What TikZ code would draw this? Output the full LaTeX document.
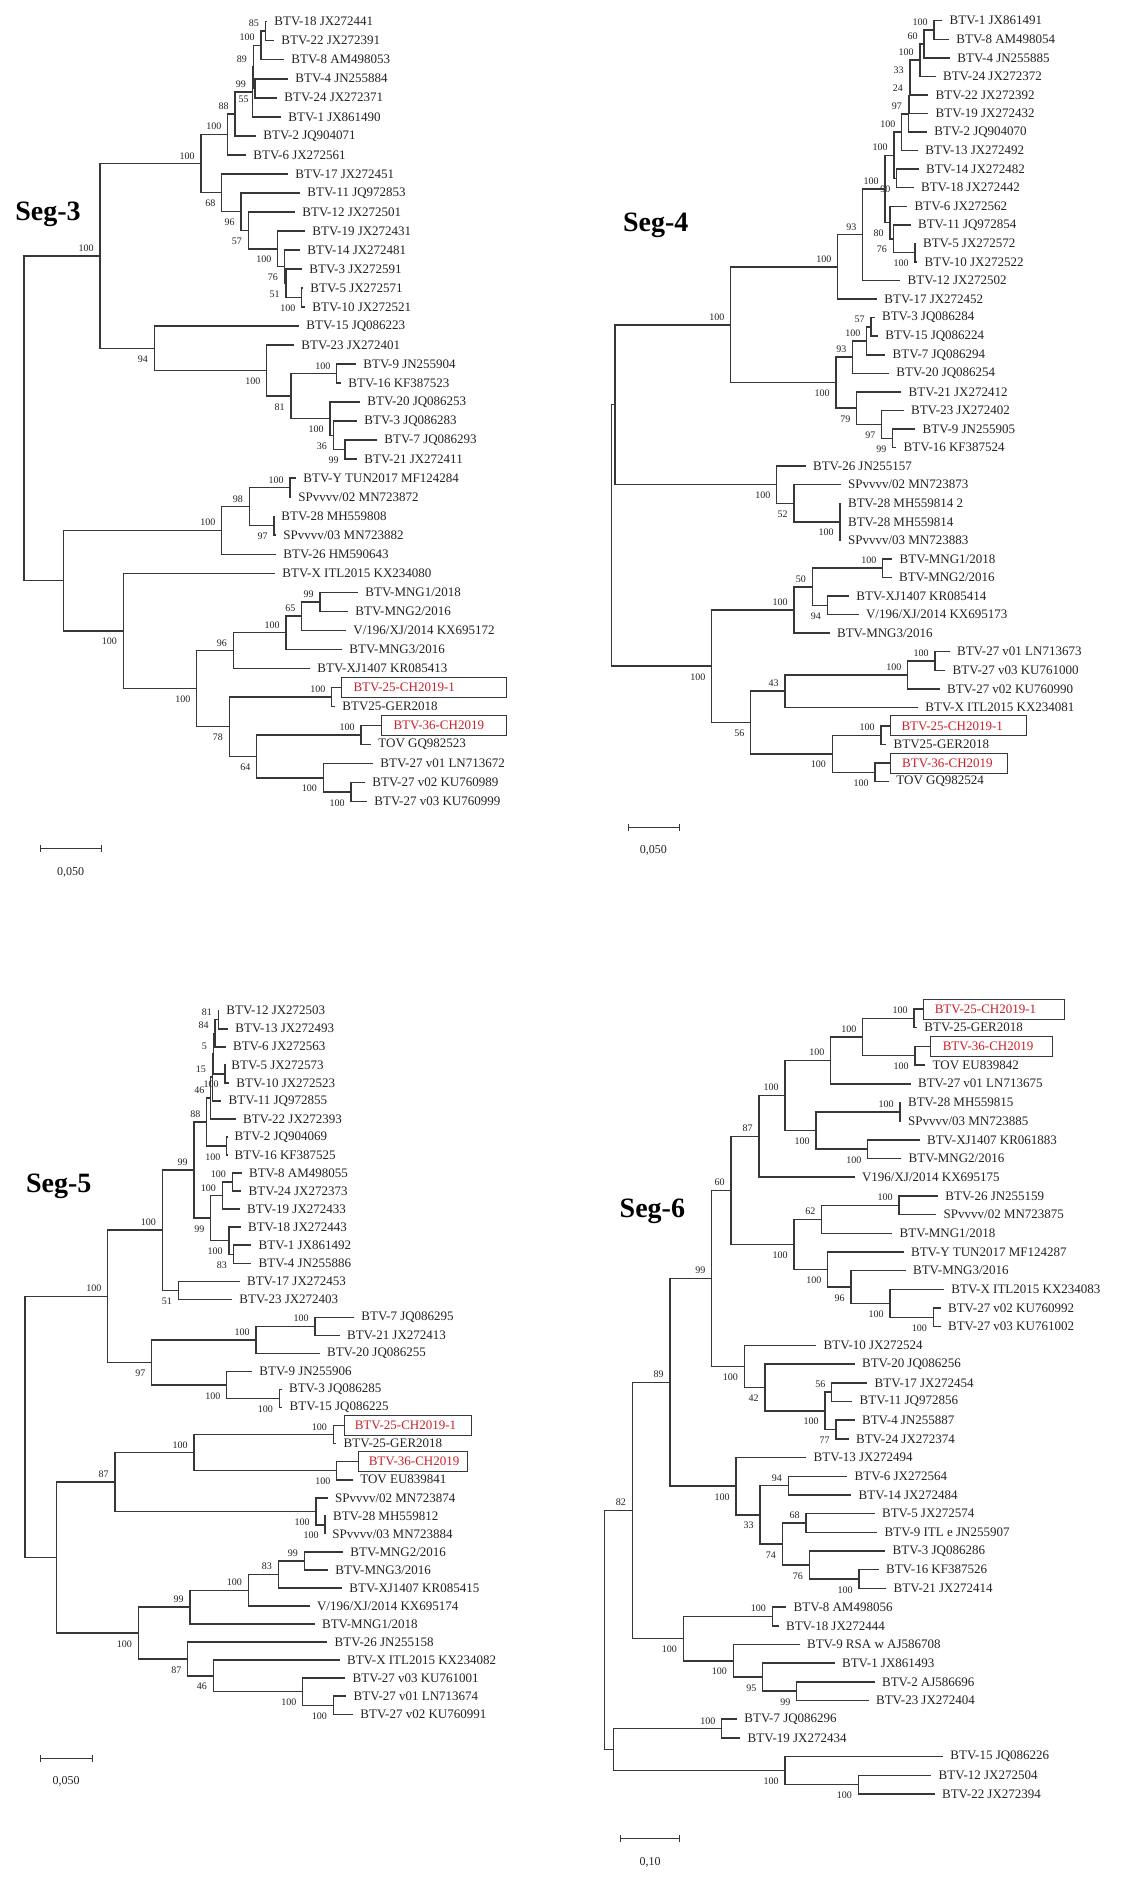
\documentclass[tikz,border=0pt]{standalone}
\usepackage{fontspec}
\setmainfont{Liberation Serif}
\usetikzlibrary{calc,arrows.meta}
\definecolor{ln}{RGB}{55,55,55}
\definecolor{tx}{RGB}{35,35,35}
\definecolor{rd}{RGB}{205,30,40}
\tikzset{
 br/.style={draw=ln, line width=0.75pt},
 tip/.style={anchor=west, inner xsep=3.5pt, inner ysep=1pt, text=tx, font=\fontsize{6.5}{7}\selectfont},
 boxtip/.style={anchor=west, draw=ln, line width=0.5pt, text=rd, inner ysep=0pt, minimum height=10pt, font=\fontsize{6.5}{7}\selectfont},
 bs/.style={inner sep=0pt, text=tx, font=\fontsize{5}{5.5}\selectfont},
 ttl/.style={anchor=base west, inner sep=0pt, font=\fontsize{14}{16}\selectfont\bfseries, text=black},
 sc/.style={inner sep=0pt, font=\fontsize{6}{7}\selectfont, text=tx},
 sbar/.style={draw=ln, line width=0.6pt, {Bar[width=3.4pt]}-{Bar[width=3.4pt]}},
}
% tip: name, text x, index, label
\newcommand\tp[4]{\node[tip] (#1) at ({#2-7},{\tyb+\tys*(#3-1)}) {#4};}
% boxed tip: name, box left x, index, inner xsep (pt), text width (pt), label
\newcommand\bt[6]{\node[boxtip, inner xsep=#4pt] (#1) at (#2,{\tyb+\tys*(#3-1)}) {\makebox[#5pt][l]{#6}};}
% internal node: name, x, top child, bottom child, support, a/b
\newcommand\nd[6]{%
 \coordinate (m#1) at ($(#3)!0.5!(#4)$);
 \coordinate (#1) at (#2,0 |- m#1);
 \draw[br] (#1) |- (#3) (#1) |- (#4);
 \if#6a\node[bs,anchor=south east] at ([shift={(-3pt,2pt)}]#1) {#5};%
 \else\node[bs,anchor=north east] at ([shift={(-3pt,-3.5pt)}]#1) {#5};\fi}
\begin{document}
\begin{tikzpicture}[x=0.5pt,y=-0.5pt]
\path[use as bounding box, fill=white] (0,0) rectangle (1125,1879);

% ================= Seg-3 =================
\def\tyb{21.7}\def\tys{19.02}
\node[ttl] (t3) at (15,220) {Seg-3};
\tp{c1}{274}{1}{BTV-18 JX272441}
\tp{c2}{281}{2}{BTV-22 JX272391}
\tp{c3}{291}{3}{BTV-8 AM498053}
\tp{c4}{295}{4}{BTV-4 JN255884}
\tp{c5}{284}{5}{BTV-24 JX272371}
\tp{c6}{288}{6}{BTV-1 JX861490}
\tp{c7}{263}{7}{BTV-2 JQ904071}
\tp{c8}{253}{8}{BTV-6 JX272561}
\tp{c9}{295}{9}{BTV-17 JX272451}
\tp{c10}{307}{10}{BTV-11 JQ972853}
\tp{c11}{302}{11}{BTV-12 JX272501}
\tp{c12}{312}{12}{BTV-19 JX272431}
\tp{c13}{307}{13}{BTV-14 JX272481}
\tp{c14}{309}{14}{BTV-3 JX272591}
\tp{c15}{310}{15}{BTV-5 JX272571}
\tp{c16}{312}{16}{BTV-10 JX272521}
\tp{c17}{306}{17}{BTV-15 JQ086223}
\tp{c18}{301}{18}{BTV-23 JX272401}
\tp{c19}{363}{19}{BTV-9 JN255904}
\tp{c20}{348}{20}{BTV-16 KF387523}
\tp{c21}{367}{21}{BTV-20 JQ086253}
\tp{c22}{364}{22}{BTV-3 JQ086283}
\tp{c23}{384}{23}{BTV-7 JQ086293}
\tp{c24}{364}{24}{BTV-21 JX272411}
\tp{c25}{303}{25}{BTV-Y TUN2017 MF124284}
\tp{c26}{298}{26}{SPvvvv/02 MN723872}
\tp{c27}{281}{27}{BTV-28 MH559808}
\tp{c28}{283}{28}{SPvvvv/03 MN723882}
\tp{c29}{283}{29}{BTV-26 HM590643}
\tp{c30}{282}{30}{BTV-X ITL2015 KX234080}
\tp{c31}{365}{31}{BTV-MNG1/2018}
\tp{c32}{355}{32}{BTV-MNG2/2016}
\tp{c33}{353}{33}{V/196/XJ/2014 KX695172}
\tp{c34}{349}{34}{BTV-MNG3/2016}
\tp{c35}{317}{35}{BTV-XJ1407 KR085413}
\bt{c36}{341}{36}{6}{70.3}{BTV-25-CH2019-1}
\tp{c37}{342}{37}{BTV25-GER2018}
\bt{c38}{381}{38}{6}{50.5}{BTV-36-CH2019}
\tp{c39}{378}{39}{TOV GQ982523}
\tp{c40}{380}{40}{BTV-27 v01 LN713672}
\tp{c41}{372}{41}{BTV-27 v02 KU760989}
\tp{c42}{374}{42}{BTV-27 v03 KU760999}
\nd{cA}{265.3}{c1}{c2}{85}{a}
\nd{cB}{261}{cA}{c3}{100}{a}
\nd{cC}{255}{c4}{c5}{55}{b}
\nd{cD}{253.3}{cB}{cC}{89}{a}
\nd{cE}{252.3}{cD}{c6}{99}{a}
\nd{cF}{235}{cE}{c7}{88}{a}
\nd{cG}{227.7}{cF}{c8}{100}{a}
\nd{cH}{301.7}{c15}{c16}{100}{b}
\nd{cI}{286}{c14}{cH}{51}{b}
\nd{cJ}{284.3}{c13}{cI}{76}{b}
\nd{cK}{277.7}{c12}{cJ}{100}{b}
\nd{cL}{248.3}{c11}{cK}{57}{b}
\nd{cM}{241}{c10}{cL}{96}{b}
\nd{cN}{221.7}{c9}{cM}{68}{b}
\nd{cO}{201}{cG}{cN}{100}{a}
\nd{cP}{336.7}{c19}{c20}{100}{a}
\nd{cQ}{345}{c23}{c24}{99}{b}
\nd{cR}{333.3}{c22}{cQ}{36}{b}
\nd{cS}{330}{c21}{cR}{100}{b}
\nd{cT}{291}{cP}{cS}{81}{b}
\nd{cU}{266.7}{c18}{cT}{100}{b}
\nd{cV}{154.3}{c17}{cU}{94}{b}
\nd{cW}{100}{cO}{cV}{100}{a}
\nd{cX}{290}{c25}{c26}{100}{a}
\nd{cY}{274}{c27}{c28}{97}{b}
\nd{cZ}{249.3}{cX}{cY}{98}{a}
\nd{ca}{221.7}{cZ}{c29}{100}{a}
\nd{cb}{320}{c31}{c32}{99}{a}
\nd{cc}{301.7}{cb}{c33}{65}{a}
\nd{cd}{286}{cc}{c34}{100}{a}
\nd{ce}{233.3}{cd}{c35}{96}{a}
\nd{cf}{331.7}{c36}{c37}{100}{a}
\nd{cg}{361}{c38}{c39}{100}{a}
\nd{ch}{351}{c41}{c42}{100}{b}
\nd{ci}{323.3}{c40}{ch}{100}{b}
\nd{cj}{256.7}{cg}{ci}{64}{b}
\nd{ck}{229.3}{cf}{cj}{78}{b}
\nd{cl}{196.7}{ce}{ck}{100}{b}
\nd{cm}{123.3}{c30}{cl}{100}{b}
\nd{cn}{63.3}{ca}{cm}{}{a}
\nd{co}{24}{cW}{cn}{}{a}
\coordinate (s3a) at (40,848.3); \coordinate (s3b) at (101.7,848.3);
\draw[sbar] (s3a) -- (s3b);
\node[sc] (s3l) at (70.7,872.7) {0,050};

% ================= Seg-4 =================
\def\tyb{20.7}\def\tys{18.56}
\node[ttl] (t4) at (622.7,231) {Seg-4};
\tp{d1}{949.3}{1}{BTV-1 JX861491}
\tp{d2}{956}{2}{BTV-8 AM498054}
\tp{d3}{957}{3}{BTV-4 JN255885}
\tp{d4}{942.7}{4}{BTV-24 JX272372}
\tp{d5}{935.3}{5}{BTV-22 JX272392}
\tp{d6}{935.3}{6}{BTV-19 JX272432}
\tp{d7}{934}{7}{BTV-2 JQ904070}
\tp{d8}{925}{8}{BTV-13 JX272492}
\tp{d9}{925.7}{9}{BTV-14 JX272482}
\tp{d10}{920.7}{10}{BTV-18 JX272442}
\tp{d11}{914.3}{11}{BTV-6 JX272562}
\tp{d12}{917.7}{12}{BTV-11 JQ972854}
\tp{d13}{922.7}{13}{BTV-5 JX272572}
\tp{d14}{924.3}{14}{BTV-10 JX272522}
\tp{d15}{907.3}{15}{BTV-12 JX272502}
\tp{d16}{884}{16}{BTV-17 JX272452}
\tp{d17}{881.7}{17}{BTV-3 JQ086284}
\tp{d18}{885}{18}{BTV-15 JQ086224}
\tp{d19}{892.3}{19}{BTV-7 JQ086294}
\tp{d20}{896}{20}{BTV-20 JQ086254}
\tp{d21}{908.3}{21}{BTV-21 JX272412}
\tp{d22}{910.7}{22}{BTV-23 JX272402}
\tp{d23}{922.3}{23}{BTV-9 JN255905}
\tp{d24}{903.3}{24}{BTV-16 KF387524}
\tp{d25}{812.7}{25}{BTV-26 JN255157}
\tp{d26}{847.7}{26}{SPvvvv/02 MN723873}
\tp{d27}{847.7}{27}{BTV-28 MH559814 2}
\tp{d28}{847.7}{28}{BTV-28 MH559814}
\tp{d29}{847.7}{29}{SPvvvv/03 MN723883}
\tp{d30}{899.3}{30}{BTV-MNG1/2018}
\tp{d31}{898.7}{31}{BTV-MNG2/2016}
\tp{d32}{856}{32}{BTV-XJ1407 KR085414}
\tp{d33}{865.7}{33}{V/196/XJ/2014 KX695173}
\tp{d34}{836.7}{34}{BTV-MNG3/2016}
\tp{d35}{956.7}{35}{BTV-27 v01 LN713673}
\tp{d36}{952.3}{36}{BTV-27 v03 KU761000}
\tp{d37}{946.7}{37}{BTV-27 v02 KU760990}
\tp{d38}{925}{38}{BTV-X ITL2015 KX234081}
\bt{d39}{890}{39}{5.5}{56.85}{BTV-25-CH2019-1}
\tp{d40}{893.3}{40}{BTV25-GER2018}
\bt{d41}{890}{41}{5.85}{46.65}{BTV-36-CH2019}
\tp{d42}{896}{42}{TOV GQ982524}
\nd{dA}{934}{d1}{d2}{100}{a}
\nd{dB}{924}{dA}{d3}{60}{a}
\nd{dC}{920}{dB}{d4}{100}{a}
\nd{dD}{910}{dC}{d5}{33}{a}
\nd{dE}{909.3}{dD}{d6}{24}{a}
\nd{dF}{908.3}{dE}{d7}{97}{a}
\nd{dG}{901.7}{dF}{d8}{100}{a}
\nd{dH}{896.7}{d9}{d10}{90}{b}
\nd{dI}{894}{dG}{dH}{100}{a}
\nd{dJ}{915}{d13}{d14}{100}{b}
\nd{dK}{893.3}{d12}{dJ}{76}{b}
\nd{dL}{890}{d11}{dK}{80}{b}
\nd{dM}{885}{dI}{dL}{100}{a}
\nd{dN}{862.7}{dM}{d15}{93}{a}
\nd{dO}{837.7}{dN}{d16}{100}{a}
\nd{dP}{871}{d17}{d18}{57}{a}
\nd{dQ}{866.7}{dP}{d19}{100}{a}
\nd{dR}{852.7}{dQ}{d20}{93}{a}
\nd{dS}{892.7}{d23}{d24}{99}{b}
\nd{dT}{881.7}{d22}{dS}{97}{b}
\nd{dU}{856.7}{d21}{dT}{79}{b}
\nd{dV}{836}{dR}{dU}{100}{b}
\nd{dW}{730.7}{dO}{dV}{100}{a}
\nd{dX}{840}{d27}{d29}{100}{b}
\draw[br] (dX) |- (d28);
\nd{dY}{794}{d26}{dX}{52}{b}
\nd{dZ}{776.7}{d25}{dY}{100}{b}
\nd{da}{615}{dW}{dZ}{}{a}
\nd{db}{882.7}{d30}{d31}{100}{a}
\nd{dc}{827.3}{d32}{d33}{94}{b}
\nd{dd}{812.3}{db}{dc}{50}{a}
\nd{de}{794}{dd}{d34}{100}{a}
\nd{df}{935}{d35}{d36}{100}{a}
\nd{dg}{907.7}{df}{d37}{100}{a}
\nd{dh}{785}{dg}{d38}{43}{a}
\nd{di}{881}{d39}{d40}{100}{a}
\nd{dj}{875}{d41}{d42}{100}{b}
\nd{dk}{832.3}{di}{dj}{100}{b}
\nd{dl}{750.7}{dh}{dk}{56}{b}
\nd{dm}{711.7}{de}{dl}{100}{b}
\nd{dn}{611.7}{da}{dm}{}{a}
\coordinate (s4a) at (627.7,827.3); \coordinate (s4b) at (680,827.3);
\draw[sbar] (s4a) -- (s4b);
\node[sc] (s4l) at (653.3,850) {0,050};

% ================= Seg-5 =================
\def\tyb{1010.7}\def\tys{18.04}
\node[ttl] (t5) at (25.7,1192.7) {Seg-5};
\tp{e1}{226}{1}{BTV-12 JX272503}
\tp{e2}{235}{2}{BTV-13 JX272493}
\tp{e3}{232.7}{3}{BTV-6 JX272563}
\tp{e4}{231}{4}{BTV-5 JX272573}
\tp{e5}{236}{5}{BTV-10 JX272523}
\tp{e6}{228.3}{6}{BTV-11 JQ972855}
\tp{e7}{242.7}{7}{BTV-22 JX272393}
\tp{e8}{234.3}{8}{BTV-2 JQ904069}
\tp{e9}{234.3}{9}{BTV-16 KF387525}
\tp{e10}{248.7}{10}{BTV-8 AM498055}
\tp{e11}{248.3}{11}{BTV-24 JX272373}
\tp{e12}{246.7}{12}{BTV-19 JX272433}
\tp{e13}{247.7}{13}{BTV-18 JX272443}
\tp{e14}{258.3}{14}{BTV-1 JX861492}
\tp{e15}{258.3}{15}{BTV-4 JN255886}
\tp{e16}{246.7}{16}{BTV-17 JX272453}
\tp{e17}{239}{17}{BTV-23 JX272403}
\tp{e18}{361}{18}{BTV-7 JQ086295}
\tp{e19}{346.7}{19}{BTV-21 JX272413}
\tp{e20}{326.7}{20}{BTV-20 JQ086255}
\tp{e21}{259}{21}{BTV-9 JN255906}
\tp{e22}{288.7}{22}{BTV-3 JQ086285}
\tp{e23}{289.3}{23}{BTV-15 JQ086225}
\bt{e24}{344.3}{24}{5}{53.35}{BTV-25-CH2019-1}
\tp{e25}{343.3}{25}{BTV-25-GER2018}
\bt{e26}{358.3}{26}{5}{44.2}{BTV-36-CH2019}
\tp{e27}{360}{27}{TOV EU839841}
\tp{e28}{334.7}{28}{SPvvvv/02 MN723874}
\tp{e29}{332.7}{29}{BTV-28 MH559812}
\tp{e30}{332}{30}{SPvvvv/03 MN723884}
\tp{e31}{350}{31}{BTV-MNG2/2016}
\tp{e32}{335}{32}{BTV-MNG3/2016}
\tp{e33}{349}{33}{BTV-XJ1407 KR085415}
\tp{e34}{316.7}{34}{V/196/XJ/2014 KX695174}
\tp{e35}{321.7}{35}{BTV-MNG1/2018}
\tp{e36}{334.3}{36}{BTV-26 JN255158}
\tp{e37}{346.7}{37}{BTV-X ITL2015 KX234082}
\tp{e38}{352.3}{38}{BTV-27 v03 KU761001}
\tp{e39}{353.3}{39}{BTV-27 v01 LN713674}
\tp{e40}{360}{40}{BTV-27 v02 KU760991}
\nd{eA}{218.3}{e1}{e2}{81}{a}
\nd{eB}{215}{eA}{e3}{84}{a}
\nd{eC}{225}{e4}{e5}{100}{b}
\nd{eD}{213.3}{eB}{eC}{5}{a}
\nd{eE}{212.3}{eD}{e6}{15}{a}
\nd{eF}{210.7}{eE}{e7}{46}{a}
\nd{eG}{226.7}{e8}{e9}{100}{b}
\nd{eH}{206.7}{eF}{eG}{88}{a}
\nd{eI}{232.3}{e10}{e11}{100}{a}
\nd{eJ}{222.3}{eI}{e12}{100}{a}
\nd{eK}{233.3}{e14}{e15}{83}{b}
\nd{eL}{229}{e13}{eK}{100}{b}
\nd{eM}{210.7}{eJ}{eL}{99}{b}
\nd{eN}{194}{eH}{eM}{99}{a}
\nd{eO}{178.3}{e16}{e17}{51}{b}
\nd{eP}{162.3}{eN}{eO}{100}{a}
\nd{eQ}{315}{e18}{e19}{100}{a}
\nd{eR}{256}{eQ}{e20}{100}{a}
\nd{eS}{279.3}{e22}{e23}{100}{b}
\nd{eT}{226.7}{e21}{eS}{100}{b}
\nd{eU}{151.7}{eR}{eT}{97}{b}
\nd{eV}{107.7}{eP}{eU}{100}{a}
\nd{eW}{333.3}{e24}{e25}{100}{a}
\nd{eX}{336.7}{e26}{e27}{100}{b}
\nd{eY}{194}{eW}{eX}{100}{a}
\nd{eZ}{325}{e29}{e30}{100}{b}
\nd{ea}{316}{e28}{eZ}{100}{b}
\nd{eb}{115}{eY}{ea}{87}{a}
\nd{ec}{304.3}{e31}{e32}{99}{a}
\nd{ed}{278.3}{ec}{e33}{83}{a}
\nd{ee}{248.3}{ed}{e34}{100}{a}
\nd{ef}{190}{ee}{e35}{99}{a}
\nd{eg}{333.3}{e39}{e40}{100}{b}
\nd{eh}{302.7}{e38}{eg}{100}{b}
\nd{ei}{213.3}{e37}{eh}{46}{b}
\nd{ej}{187.7}{e36}{ei}{87}{b}
\nd{ek}{138.3}{ef}{ej}{100}{b}
\nd{el}{56.7}{eb}{ek}{}{a}
\nd{em}{25}{eV}{el}{}{a}
\coordinate (s5a) at (40,1758.3); \coordinate (s5b) at (93.3,1758.3);
\draw[sbar] (s5a) -- (s5b);
\node[sc] (s5l) at (66,1781) {0,050};

% ================= Seg-6 =================
\def\tyb{1009}\def\tys{18.69}
\node[ttl] (t6) at (619.3,1217.7) {Seg-6};
\bt{f1}{922.7}{1}{5.8}{59.05}{BTV-25-CH2019-1}
\tp{f2}{924}{2}{BTV-25-GER2018}
\bt{f3}{930}{3}{6.15}{48.55}{BTV-36-CH2019}
\tp{f4}{932.3}{4}{TOV EU839842}
\tp{f5}{917.7}{5}{BTV-27 v01 LN713675}
\tp{f6}{907.7}{6}{BTV-28 MH559815}
\tp{f7}{907.7}{7}{SPvvvv/03 MN723885}
\tp{f8}{926.7}{8}{BTV-XJ1407 KR061883}
\tp{f9}{908.3}{9}{BTV-MNG2/2016}
\tp{f10}{861.7}{10}{V196/XJ/2014 KX695175}
\tp{f11}{945}{11}{BTV-26 JN255159}
\tp{f12}{943.3}{12}{SPvvvv/02 MN723875}
\tp{f13}{899.3}{13}{BTV-MNG1/2018}
\tp{f14}{910.7}{14}{BTV-Y TUN2017 MF124287}
\tp{f15}{912.7}{15}{BTV-MNG3/2016}
\tp{f16}{951}{16}{BTV-X ITL2015 KX234083}
\tp{f17}{947.7}{17}{BTV-27 v02 KU760992}
\tp{f18}{947.7}{18}{BTV-27 v03 KU761002}
\tp{f19}{823.3}{19}{BTV-10 JX272524}
\tp{f20}{861.7}{20}{BTV-20 JQ086256}
\tp{f21}{874.3}{21}{BTV-17 JX272454}
\tp{f22}{859.3}{22}{BTV-11 JQ972856}
\tp{f23}{861.7}{23}{BTV-4 JN255887}
\tp{f24}{855.7}{24}{BTV-24 JX272374}
\tp{f25}{813.3}{25}{BTV-13 JX272494}
\tp{f26}{854.3}{26}{BTV-6 JX272564}
\tp{f27}{858.3}{27}{BTV-14 JX272484}
\tp{f28}{881.7}{28}{BTV-5 JX272574}
\tp{f29}{884.3}{29}{BTV-9 ITL e JN255907}
\tp{f30}{892.3}{30}{BTV-3 JQ086286}
\tp{f31}{885.7}{31}{BTV-16 KF387526}
\tp{f32}{893.3}{32}{BTV-21 JX272414}
\tp{f33}{793.3}{33}{BTV-8 AM498056}
\tp{f34}{785.7}{34}{BTV-18 JX272444}
\tp{f35}{806.7}{35}{BTV-9 RSA w AJ586708}
\tp{f36}{841.7}{36}{BTV-1 JX861493}
\tp{f37}{881.7}{37}{BTV-2 AJ586696}
\tp{f38}{875.7}{38}{BTV-23 JX272404}
\tp{f39}{744}{39}{BTV-7 JQ086296}
\tp{f40}{747.3}{40}{BTV-19 JX272434}
\tp{f41}{950}{41}{BTV-15 JQ086226}
\tp{f42}{938.3}{42}{BTV-12 JX272504}
\tp{f43}{941.7}{43}{BTV-22 JX272394}
\nd{fA}{914}{f1}{f2}{100}{a}
\nd{fB}{915}{f3}{f4}{100}{b}
\nd{fC}{862.7}{fA}{fB}{100}{a}
\nd{fD}{830.7}{fC}{f5}{100}{a}
\nd{fE}{900}{f6}{f7}{100}{a}
\nd{fF}{867.7}{f8}{f9}{100}{b}
\nd{fG}{816}{fE}{fF}{100}{b}
\nd{fH}{785}{fD}{fG}{100}{a}
\nd{fI}{759}{fH}{f10}{87}{a}
\nd{fJ}{899}{f11}{f12}{100}{a}
\nd{fK}{821.7}{fJ}{f13}{62}{a}
\nd{fL}{933.3}{f17}{f18}{100}{b}
\nd{fM}{890}{f16}{fL}{100}{b}
\nd{fN}{851}{f15}{fM}{96}{b}
\nd{fO}{827.7}{f14}{fN}{100}{b}
\nd{fP}{794}{fK}{fO}{100}{b}
\nd{fQ}{731}{fI}{fP}{60}{a}
\nd{fR}{831.7}{f21}{f22}{56}{a}
\nd{fS}{836}{f23}{f24}{77}{b}
\nd{fT}{825}{fR}{fS}{100}{b}
\nd{fU}{765}{f20}{fT}{42}{b}
\nd{fV}{744.3}{f19}{fU}{100}{b}
\nd{fW}{711.7}{fQ}{fV}{99}{a}
\nd{fX}{788.3}{f26}{f27}{94}{a}
\nd{fY}{806}{f28}{f29}{68}{a}
\nd{fZ}{859}{f31}{f32}{100}{b}
\nd{fa}{809.3}{f30}{fZ}{76}{b}
\nd{fb}{782.3}{fY}{fa}{74}{b}
\nd{fc}{760}{fX}{fb}{33}{b}
\nd{fd}{736}{f25}{fc}{100}{b}
\nd{fe}{670}{fW}{fd}{89}{a}
\nd{ff}{772.3}{f33}{f34}{100}{a}
\nd{fg}{796.7}{f37}{f38}{99}{b}
\nd{fh}{762.7}{f36}{fg}{95}{b}
\nd{fi}{733.3}{f35}{fh}{100}{b}
\nd{fj}{683.3}{ff}{fi}{100}{b}
\nd{fk}{632.3}{fe}{fj}{82}{a}
\nd{fl}{721.7}{f39}{f40}{100}{a}
\nd{fm}{858.3}{f42}{f43}{100}{b}
\nd{fn}{785}{f41}{fm}{100}{b}
\nd{fo}{613.3}{fl}{fn}{}{a}
\nd{fp}{604.3}{fk}{fo}{}{a}
\coordinate (s6a) at (620,1838.3); \coordinate (s6b) at (680,1838.3);
\draw[sbar] (s6a) -- (s6b);
\node[sc] (s6l) at (650,1862.7) {0,10};
\end{tikzpicture}
\end{document}
